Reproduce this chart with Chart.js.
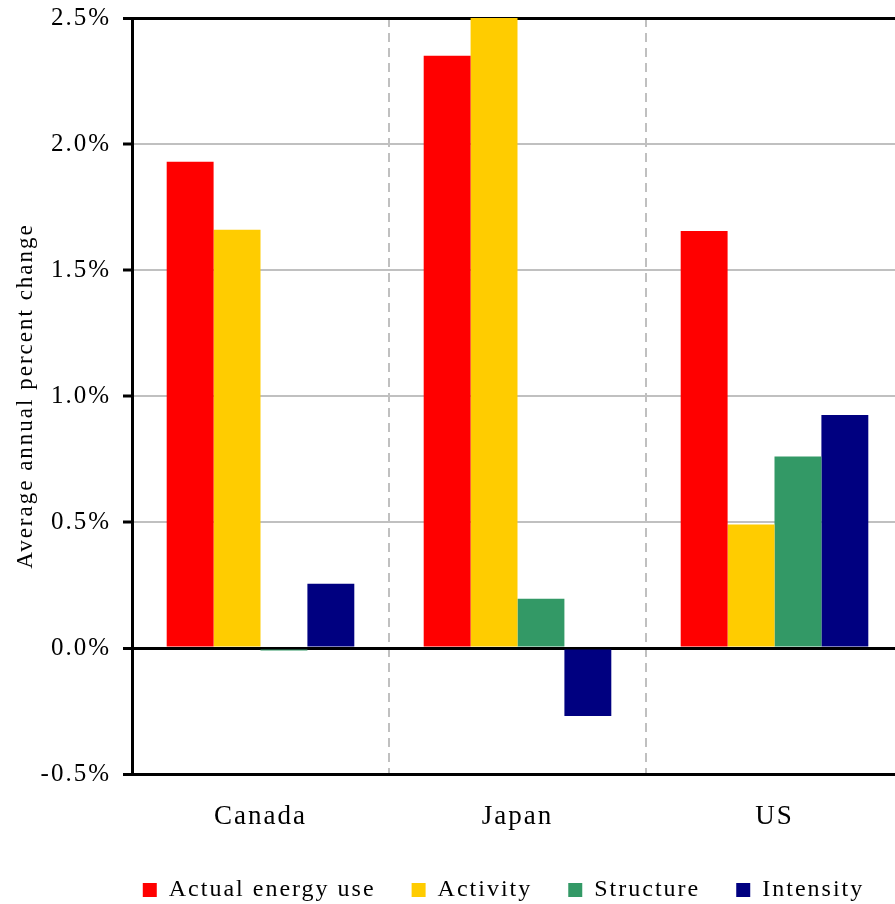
<!DOCTYPE html>
<html>
<head>
<meta charset="utf-8">
<script src="https://cdn.jsdelivr.net/npm/chart.js@4.4.0/dist/chart.umd.min.js"></script>
<style>
  html, body { margin: 0; padding: 0; background: #fff; overflow: hidden; }
  #wrap { width: 903px; height: 912px; }
</style>
</head>
<body>
<div id="wrap"><canvas id="c"></canvas></div>
<script>
// Decomposition of average annual change in energy use, by country
const countries = ['Canada', 'Japan', 'US'];
const actualEnergyUse = [1.93, 2.35, 1.655];
const activity = [1.66, 2.50, 0.49];
const structure = [-0.01, 0.195, 0.76];
const intensity = [0.255, -0.27, 0.925];
const yTicks = [-0.5, 0.0, 0.5, 1.0, 1.5, 2.0, 2.5];

const FONT = 'Liberation Serif';
const BLACK_LINES = [0, 2.5, -0.5];

// Wide letter spacing used throughout the chart's text
const spacing = {
  id: 'spacing',
  beforeLayout(chart) { chart.ctx.letterSpacing = '2px'; },
  beforeDraw(chart) { chart.ctx.letterSpacing = '2px'; }
};

// Legend row sits a little right of the canvas centre
const legendShift = {
  id: 'legendShift',
  afterLayout(chart) {
    const lg = chart.legend;
    if (lg) { lg.left += 52; lg.right += 52; }
  }
};

new Chart(document.getElementById('c'), {
  type: 'bar',
  data: {
    labels: countries,
    datasets: [
      { label: 'Actual energy use', data: actualEnergyUse, backgroundColor: '#FF0000' },
      { label: 'Activity', data: activity, backgroundColor: '#FFCC00' },
      { label: 'Structure', data: structure, backgroundColor: '#339966' },
      { label: 'Intensity', data: intensity, backgroundColor: '#000080' }
    ]
  },
  options: {
    responsive: true,
    maintainAspectRatio: false,
    animation: false,
    layout: { padding: { top: 18, right: 0, bottom: 0, left: 0 } },
    datasets: { bar: { barPercentage: 1.0, categoryPercentage: 0.73, borderWidth: 0 } },
    plugins: {
      tooltip: { enabled: false },
      legend: {
        position: 'bottom',
        labels: {
          color: '#000',
          font: { family: FONT, size: 24 },
          boxWidth: 14,
          boxHeight: 14,
          padding: 36
        }
      }
    },
    scales: {
      x: {
        grid: {
          offset: true,
          color: '#c0c0c0',
          lineWidth: 2,
          drawTicks: false
        },
        border: { display: true, color: '#000', width: 3, dash: [9, 6] },
        ticks: {
          color: '#000',
          font: { family: FONT, size: 27 },
          padding: 27
        },
        afterFit(scale) { scale.height = 68; }
      },
      y: {
        min: -0.5,
        max: 2.5,
        afterBuildTicks(scale) { scale.ticks = yTicks.map(v => ({ value: v })); },
        grid: {
          color: ctx => (ctx.tick && BLACK_LINES.includes(ctx.tick.value)) ? '#000' : '#c0c0c0',
          lineWidth: ctx => (ctx.tick && BLACK_LINES.includes(ctx.tick.value)) ? 3 : 2,
          tickColor: '#000',
          tickLength: 9,
          tickWidth: 3
        },
        border: { display: true, color: '#000', width: 3 },
        ticks: {
          color: '#000',
          font: { family: FONT, size: 25 },
          padding: 12,
          callback: v => v.toFixed(1) + '%'
        },
        title: {
          display: true,
          text: 'Average annual percent change',
          color: '#000',
          font: { family: FONT, size: 23 },
          padding: { top: 12, bottom: 4 }
        },
        afterFit(scale) {
          scale.width = 132;
          scale.paddingTop = 0;
          scale.paddingBottom = 0;
        }
      }
    }
  },
  plugins: [spacing, legendShift]
});
</script>
</body>
</html>
